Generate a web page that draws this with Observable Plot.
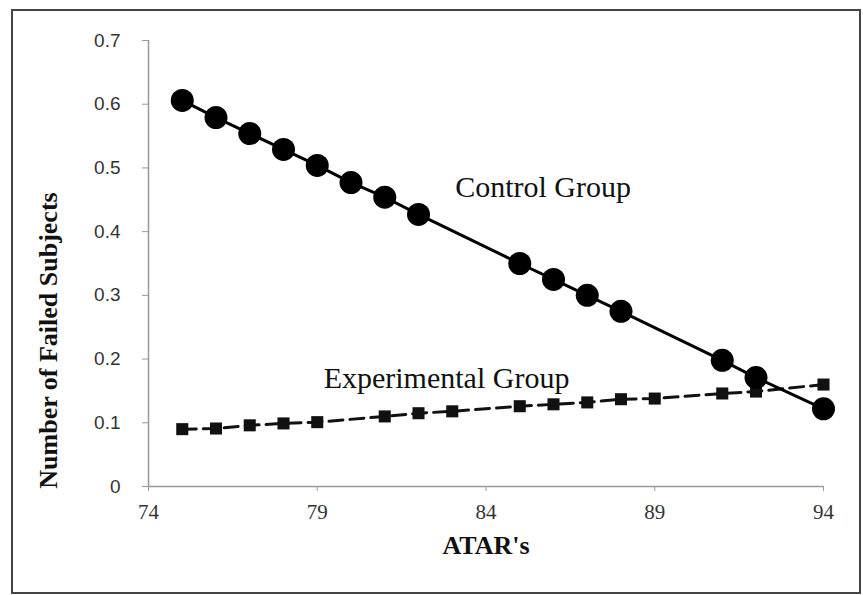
<!DOCTYPE html>
<html>
<head>
<meta charset="utf-8">
<script src="https://cdn.jsdelivr.net/npm/d3@7"></script>
<script src="https://cdn.jsdelivr.net/npm/@observablehq/plot@0.6"></script>
<style>
  html, body { margin: 0; padding: 0; background: #fff; }
  #chart { width: 863px; height: 595px; }
</style>
</head>
<body>
<div id="chart"></div>
<script>
// ---- Data ----
const controlX = [75, 76, 77, 78, 79, 80, 81, 82, 85, 86, 87, 88, 91, 92, 94];
const controlY = [0.606, 0.579, 0.554, 0.529, 0.504, 0.477, 0.454, 0.427, 0.350, 0.325, 0.300, 0.275, 0.198, 0.171, 0.122];

const expX = [75, 76, 77, 78, 79, 81, 82, 83, 85, 86, 87, 88, 89, 91, 92, 94];
const expY = [0.090, 0.091, 0.096, 0.099, 0.101, 0.110, 0.115, 0.118, 0.126, 0.129, 0.132, 0.137, 0.138, 0.146, 0.149, 0.160];

const xTicks = [74, 79, 84, 89, 94];
const yTicks = [0, 0.1, 0.2, 0.3, 0.4, 0.5, 0.6, 0.7];
const yTickLabels = ["0", "0.1", "0.2", "0.3", "0.4", "0.5", "0.6", "0.7"];

const labelNames = ["Control Group", "Experimental Group"];
const labelX = [85.69, 82.83];
const labelY = [0.469, 0.170];

const xTitle = "ATAR's";
const yTitle = "Number of Failed Subjects";

// ---- Tables ----
const control = controlX.map((x, i) => ({x, y: controlY[i]}));
const experimental = expX.map((x, i) => ({x, y: expY[i]}));
const labels = labelNames.map((t, i) => ({t, x: labelX[i], y: labelY[i]}));

const serif = "'Liberation Serif', 'Times New Roman', serif";
const sans = "'Liberation Sans', Arial, sans-serif";

const plot = Plot.plot({
  width: 863,
  height: 595,
  marginLeft: 148,
  marginRight: 40,
  marginTop: 40,
  marginBottom: 109,
  style: {background: "#fff", overflow: "visible"},
  x: {domain: [74, 94]},
  y: {domain: [0, 0.7]},
  marks: [
    Plot.axisY({
      ticks: yTicks,
      tickFormat: (d) => yTickLabels[yTicks.indexOf(d)],
      tickSize: 6,
      tickPadding: 22,
      stroke: "#999",
      fill: "#333",
      fontSize: 19,
      fontFamily: sans,
      label: null
    }),
    Plot.axisX({
      ticks: xTicks,
      tickSize: 5,
      tickPadding: 13,
      stroke: "#999",
      fill: "#333",
      fontSize: 21,
      fontFamily: serif,
      label: null
    }),
    Plot.ruleX([74], {stroke: "#999", strokeWidth: 1.5}),
    Plot.ruleY([0], {stroke: "#999", strokeWidth: 1.5}),
    Plot.line(experimental, {x: "x", y: "y", stroke: "#111", strokeWidth: 3, strokeDasharray: "14,7"}),
    Plot.dot(experimental, {x: "x", y: "y", symbol: "square", r: 6.8, fill: "#111", stroke: "none"}),
    Plot.line(control, {x: "x", y: "y", stroke: "#000", strokeWidth: 3}),
    Plot.dot(control, {x: "x", y: "y", r: 11.5, fill: "#000", stroke: "none"}),
    Plot.text(labels, {x: "x", y: "y", text: "t", fontSize: 30, fontFamily: serif, fill: "#111"}),
    Plot.text([xTitle], {frameAnchor: "bottom", textAnchor: "middle", dy: 67, fontSize: 26, fontWeight: "bold", fontFamily: serif, fill: "#111"}),
    Plot.text([yTitle], {frameAnchor: "left", textAnchor: "middle", dx: -100, dy: 77, rotate: -90, fontSize: 26, fontWeight: "bold", fontFamily: serif, fill: "#111"})
  ]
});

// outer picture border
d3.select(plot).append("rect")
  .attr("x", 12).attr("y", 10)
  .attr("width", 848).attr("height", 583)
  .attr("fill", "none").attr("stroke", "#444").attr("stroke-width", 2);

document.getElementById("chart").appendChild(plot);
</script>
</body>
</html>
